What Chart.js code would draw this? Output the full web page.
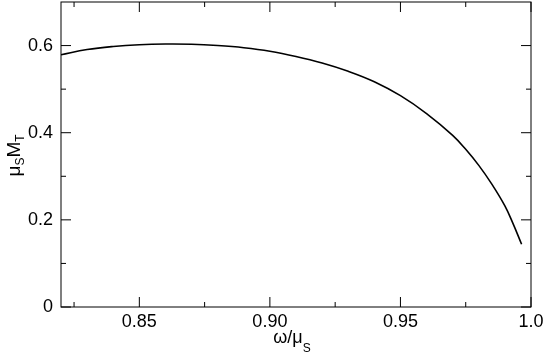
<!DOCTYPE html>
<html>
<head>
<meta charset="utf-8">
<script src="https://cdn.jsdelivr.net/npm/chart.js@4"></script>
<style>
  html, body { margin: 0; padding: 0; background: #fff; }
  #wrap { width: 545px; height: 356px; }
</style>
</head>
<body>
<div id="wrap"><canvas id="chart" width="545" height="356"></canvas></div>
<script>
// omega / mu_S  vs  mu_S * M_T
const omega = [0.82, 0.83, 0.84, 0.85, 0.86, 0.87, 0.88, 0.89, 0.90, 0.91, 0.92,
  0.93, 0.94, 0.95, 0.96, 0.97, 0.975, 0.98, 0.985, 0.99, 0.993, 0.9964];
const massT = [0.579, 0.591, 0.598, 0.602, 0.6035, 0.603, 0.600, 0.595, 0.587, 0.575, 0.560,
  0.541, 0.517, 0.485, 0.444, 0.394, 0.362, 0.325, 0.282, 0.232, 0.193, 0.144];

const xTicks = [0.85, 0.90, 0.95, 1.0];
const xTickLabels = ["0.85", "0.90", "0.95", "1.0"];
const yTicks = [0, 0.2, 0.4, 0.6];
const yTickLabels = ["0", "0.2", "0.4", "0.6"];
const xMinor = [0.825, 0.875, 0.925, 0.975];
const yMinor = [0.1, 0.3, 0.5];

const FONT = "'Liberation Sans', Arial, Helvetica, sans-serif";

// frame, inward ticks on all four sides, and axis titles with subscripts
const framePlugin = {
  id: "frame",
  afterDraw(chart) {
    const ctx = chart.ctx;
    const a = chart.chartArea;
    const xs = chart.scales.x, ys = chart.scales.y;
    ctx.save();
    ctx.strokeStyle = "#000";
    ctx.lineWidth = 1;
    ctx.strokeRect(a.left, a.top, a.right - a.left, a.bottom - a.top);

    const tick = (vals, len) => {
      vals.forEach(v => {
        const px = xs.getPixelForValue(v);
        ctx.beginPath();
        ctx.moveTo(px, a.bottom); ctx.lineTo(px, a.bottom - len);
        ctx.moveTo(px, a.top); ctx.lineTo(px, a.top + len);
        ctx.stroke();
      });
    };
    const ytick = (vals, len) => {
      vals.forEach(v => {
        const py = ys.getPixelForValue(v);
        ctx.beginPath();
        ctx.moveTo(a.left, py); ctx.lineTo(a.left + len, py);
        ctx.moveTo(a.right, py); ctx.lineTo(a.right - len, py);
        ctx.stroke();
      });
    };
    tick(xTicks, 10); tick(xMinor, 5);
    ytick(yTicks, 10); ytick(yMinor, 5);

    // x title: ω/μ_S
    ctx.fillStyle = "#000";
    ctx.textBaseline = "alphabetic";
    ctx.font = "18px " + FONT;
    const main = "ω/μ";
    ctx.font = "12px " + FONT;
    const subW = ctx.measureText("S").width;
    ctx.font = "18px " + FONT;
    const mainW = ctx.measureText(main).width;
    let x0 = (a.left + a.right) / 2 - 4 - (mainW + subW) / 2;
    ctx.fillText(main, x0, 343);
    ctx.font = "12px " + FONT;
    ctx.fillText("S", x0 + mainW, 352);

    // y title: μ_S M_T (rotated)
    ctx.translate(20, (a.top + a.bottom) / 2 + 1);
    ctx.rotate(-Math.PI / 2);
    const parts = [["μ", 19, 0], ["S", 12, 4], ["M", 19, 0], ["T", 12, 4]];
    let total = 0;
    parts.forEach(p => { ctx.font = p[1] + "px " + FONT; total += ctx.measureText(p[0]).width; });
    let cx = -total / 2;
    parts.forEach(p => {
      ctx.font = p[1] + "px " + FONT;
      ctx.fillText(p[0], cx, p[2]);
      cx += ctx.measureText(p[0]).width;
    });
    ctx.restore();
  }
};

new Chart(document.getElementById("chart"), {
  type: "line",
  data: {
    datasets: [
      {
        data: omega.map((x, i) => ({ x: x, y: massT[i] })),
        borderColor: "#000",
        borderWidth: 1.6,
        pointRadius: 0,
        fill: false,
        tension: 0.4,
      },
    ],
  },
  options: {
    responsive: false,
    animation: false,
    layout: { padding: { top: 2, right: 14, left: 0, bottom: 0 } },
    plugins: { legend: { display: false }, tooltip: { enabled: false } },
    scales: {
      x: {
        type: "linear",
        min: 0.82,
        max: 1.0,
        grid: { display: false, drawTicks: false },
        border: { display: false },
        afterBuildTicks: s => { s.ticks = xTicks.map(v => ({ value: v })); },
        afterFit: s => { s.height = 49; s.paddingLeft = 0; s.paddingRight = 0; },
        ticks: {
          autoSkip: false,
          maxRotation: 0,
          padding: 4,
          color: "#000",
          font: { family: FONT, size: 18 },
          callback: v => xTickLabels[xTicks.indexOf(v)],
        },
      },
      y: {
        min: 0,
        max: 0.7,
        grid: { display: false, drawTicks: false },
        border: { display: false },
        afterBuildTicks: s => { s.ticks = yTicks.map(v => ({ value: v })); },
        afterFit: s => { s.width = 61; s.paddingTop = 0; s.paddingBottom = 0; },
        ticks: {
          padding: 8,
          color: "#000",
          font: { family: FONT, size: 18 },
          callback: v => yTickLabels[yTicks.indexOf(v)],
        },
      },
    },
  },
  plugins: [framePlugin],
});
</script>
</body>
</html>
